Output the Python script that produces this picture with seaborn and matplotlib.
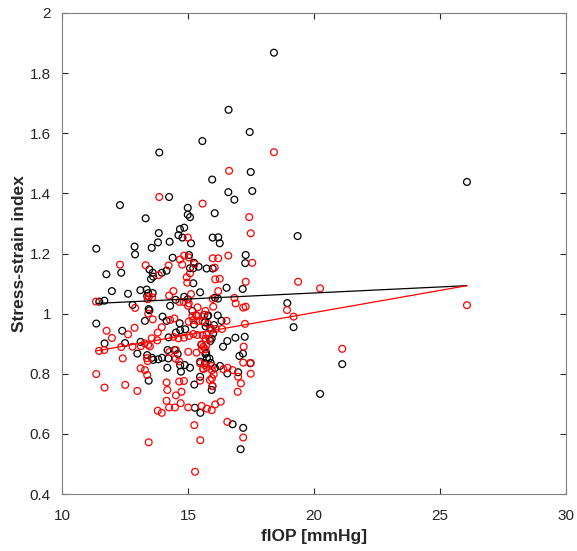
import matplotlib
matplotlib.use("Agg")
import matplotlib.pyplot as plt
import seaborn as sns
import pandas as pd

# ---- data ----
black_x = [12.30, 13.32, 11.36, 12.88, 12.90, 11.76, 12.35, 11.98, 12.62, 13.11, 13.36,
           15.57, 13.86, 14.25, 14.99, 14.99, 15.08, 14.85, 14.68, 13.84, 14.62, 14.78, 15.12,
           13.81, 14.27, 13.56, 14.39, 15.04, 15.24, 13.47, 13.60, 13.53, 13.62, 13.96, 14.15,
           15.08, 15.21, 15.42, 15.74, 15.21, 13.42, 13.60, 14.85, 15.48,
           16.61, 17.45, 17.49, 15.96, 16.60, 16.84, 17.55, 16.06, 15.98, 16.20, 16.26, 17.29,
           17.27, 15.98, 16.53, 17.17, 16.07, 16.19,
           13.38, 11.48, 11.68, 12.80, 13.44, 13.29, 11.36, 12.39, 11.69, 12.50, 13.12, 12.99,
           13.38, 13.44,
           14.99, 14.51, 14.29, 13.47, 13.99, 14.15, 14.67, 15.24, 15.65, 15.78, 14.89, 14.69,
           14.52, 14.23, 13.57, 13.62, 14.19, 14.47, 14.59, 13.82, 13.97, 14.22, 15.69, 15.75,
           15.48, 15.67, 14.18, 14.69, 14.87, 15.08, 14.72, 15.25, 15.27, 15.49,
           15.17, 15.80, 16.18, 16.33, 15.67, 15.70, 15.89, 16.03, 16.00, 17.25, 16.88, 15.94,
           15.89, 15.53, 16.56, 16.39, 17.04, 17.18, 17.47, 15.72, 15.85, 15.90, 16.07, 16.27,
           16.56, 16.99, 15.48, 15.97, 15.94, 16.77, 17.19, 17.09,
           18.41, 19.35, 18.94, 19.19, 21.12, 20.24, 26.07]
black_y = [1.361, 1.317, 1.216, 1.223, 1.197, 1.131, 1.136, 1.075, 1.066, 1.078, 1.080,
           1.574, 1.536, 1.388, 1.352, 1.329, 1.321, 1.286, 1.281, 1.268, 1.261, 1.253, 1.234,
           1.237, 1.239, 1.219, 1.186, 1.195, 1.169, 1.147, 1.136, 1.115, 1.123, 1.136, 1.143,
           1.151, 1.151, 1.156, 1.150, 1.101, 1.068, 1.068, 1.056, 1.071,
           1.678, 1.604, 1.471, 1.446, 1.404, 1.379, 1.408, 1.334, 1.253, 1.254, 1.234, 1.195,
           1.168, 1.150, 1.086, 1.082, 1.053, 1.050,
           1.059, 1.040, 1.043, 1.029, 1.015, 0.976, 0.967, 0.943, 0.901, 0.902, 0.906, 0.867,
           0.862, 0.777,
           1.048, 1.046, 1.026, 1.011, 0.990, 0.976, 0.968, 0.964, 0.996, 0.992, 0.948, 0.945,
           0.937, 0.921, 0.853, 0.846, 0.879, 0.879, 0.866, 0.848, 0.853, 0.851, 0.866, 0.852,
           0.840, 0.835, 0.820, 0.828, 0.829, 0.820, 0.807, 0.764, 0.687, 0.670,
           1.009, 0.994, 0.994, 0.976, 0.971, 0.957, 0.952, 0.962, 0.934, 0.923, 0.920, 0.917,
           0.909, 0.896, 0.909, 0.890, 0.859, 0.867, 0.835, 0.870, 0.851, 0.836, 0.819, 0.826,
           0.801, 0.805, 0.790, 0.759, 0.746, 0.632, 0.620, 0.549,
           1.868, 1.258, 1.035, 0.955, 0.832, 0.733, 1.438]

red_x = [12.30, 13.32,
         13.86, 15.58, 14.99, 14.85, 14.68, 15.03, 14.77, 14.23, 13.84, 14.95, 15.08, 14.97,
         13.45, 13.58, 14.42, 14.25,
         16.63, 17.43, 17.49, 16.60, 15.98, 16.20, 17.55, 16.06, 15.26, 16.08, 16.26, 17.29,
         16.20, 16.84,
         11.35, 12.90, 13.42, 11.77, 12.62, 12.88, 11.98, 11.47, 11.68, 12.35, 12.80, 13.13,
         13.42, 12.41, 13.37, 13.40, 13.12, 13.29, 13.38, 11.36, 11.69, 12.51, 12.99, 13.44,
         13.40, 15.12, 14.66, 14.83, 15.03, 15.00, 15.38, 15.32, 15.69, 15.63, 13.60, 14.29,
         14.46, 15.03, 15.21, 15.40, 15.58, 13.96, 13.80, 13.56, 13.78, 13.28, 14.42, 14.62,
         14.84, 15.04, 15.21, 15.37, 15.58, 13.49, 15.73, 15.54, 14.52, 14.26, 15.01, 15.34,
         15.55, 15.60, 14.51, 14.65, 15.48, 14.15, 14.84, 14.65, 14.18, 14.74, 14.52, 14.15,
         14.71, 15.01, 15.54, 14.48, 14.25, 13.80, 13.96, 15.75, 15.25, 15.49, 15.28,
         15.98, 16.89, 17.19, 17.29, 16.00, 15.17, 15.35, 16.53, 15.79, 15.93, 16.10, 16.35,
         17.26, 15.74, 15.70, 15.85, 15.61, 17.21, 15.69, 17.19, 17.49, 17.49, 15.48, 15.67,
         15.61, 15.74, 15.95, 15.95, 16.57, 16.40, 16.77, 16.99, 17.10, 16.97, 16.02, 15.95,
         15.87, 15.97, 16.30, 16.08, 15.94, 16.56, 17.19,
         18.41, 19.37, 20.24, 18.93, 19.19, 21.12, 26.07]
red_y = [1.163, 1.161,
         1.388, 1.366, 1.253, 1.193, 1.180, 1.187, 1.163, 1.160, 1.128, 1.121, 1.134, 1.103,
         1.056, 1.054, 1.075, 1.060,
         1.475, 1.321, 1.267, 1.193, 1.184, 1.184, 1.169, 1.153, 1.165, 1.114, 1.116, 1.106,
         1.075, 1.052,
         1.040, 1.019, 1.000, 0.943, 0.931, 0.953, 0.919, 0.876, 0.879, 0.889, 0.890, 0.892,
         0.896, 0.851, 0.852, 0.842, 0.818, 0.812, 0.796, 0.799, 0.754, 0.763, 0.743, 0.572,
         1.048, 1.065, 1.039, 1.039, 1.034, 1.026, 1.021, 0.995, 1.009, 0.996, 0.981, 0.979,
         0.984, 0.973, 0.979, 0.975, 0.974, 0.955, 0.937, 0.918, 0.911, 0.901, 0.923, 0.918,
         0.920, 0.926, 0.932, 0.929, 0.928, 0.891, 0.896, 0.898, 0.879, 0.872, 0.873, 0.870,
         0.881, 0.817, 0.850, 0.841, 0.777, 0.771, 0.776, 0.774, 0.746, 0.740, 0.728, 0.710,
         0.702, 0.688, 0.693, 0.688, 0.688, 0.677, 0.670, 0.684, 0.629, 0.579, 0.474,
         1.049, 1.034, 1.020, 1.023, 1.023, 0.992, 0.992, 0.976, 0.966, 0.946, 0.949, 0.949,
         0.966, 0.930, 0.917, 0.917, 0.890, 0.890, 0.881, 0.837, 0.836, 0.800, 0.835, 0.829,
         0.816, 0.821, 0.826, 0.812, 0.820, 0.815, 0.812, 0.790, 0.768, 0.740, 0.798, 0.785,
         0.779, 0.759, 0.707, 0.698, 0.679, 0.640, 0.588,
         1.537, 1.106, 1.084, 1.012, 0.990, 0.883, 1.028]

# fitted regression lines (end points)
fit_x = [11.36, 26.07]
black_fit_y = [1.034, 1.093]
red_fit_y = [0.876, 1.093]

x_ticks = [10, 15, 20, 25, 30]
y_ticks = [0.4, 0.6, 0.8, 1.0, 1.2, 1.4, 1.6, 1.8, 2.0]
y_tick_labels = ["0.4", "0.6", "0.8", "1", "1.2", "1.4", "1.6", "1.8", "2"]

# ---- plot ----
sns.set_style("white")
plt.rcParams["font.family"] = ["Liberation Sans", "DejaVu Sans"]
plt.rcParams.update({
    "xtick.major.size": 4, "ytick.major.size": 4,
    "xtick.major.width": 0.8, "ytick.major.width": 0.8,
    "xtick.direction": "in", "ytick.direction": "in",
    "xtick.top": True, "ytick.right": True,
    "xtick.bottom": True, "ytick.left": True,
    "xtick.major.pad": 11, "ytick.major.pad": 8,
    "xtick.color": "#262626", "ytick.color": "#262626",
    "xtick.labelsize": 11, "ytick.labelsize": 11,
})

fig = plt.figure(figsize=(5.77, 5.51), dpi=100)
ax = fig.add_axes([62 / 577, 1 - 494 / 551, (566 - 62) / 577, (494 - 13) / 551])

df_b = pd.DataFrame({"x": black_x, "y": black_y})
df_r = pd.DataFrame({"x": red_x, "y": red_y})

sns.scatterplot(data=df_b, x="x", y="y", ax=ax, marker="o", s=24,
                facecolors="none", edgecolor="black", linewidth=0.9, zorder=2)
sns.scatterplot(data=df_r, x="x", y="y", ax=ax, marker="o", s=24,
                facecolors="none", edgecolor="red", linewidth=0.9, zorder=3)

sns.lineplot(x=fit_x, y=black_fit_y, ax=ax, color="black", linewidth=0.9, zorder=4)
sns.lineplot(x=fit_x, y=red_fit_y, ax=ax, color="red", linewidth=0.9, zorder=4)

ax.set_xlim(10, 30)
ax.set_ylim(0.4, 2.0)
ax.set_xticks(x_ticks)
ax.set_xticklabels([str(t) for t in x_ticks])
ax.set_yticks(y_ticks)
ax.set_yticklabels(y_tick_labels)

for sp in ax.spines.values():
    sp.set_visible(True)
    sp.set_color("#808080")
    sp.set_linewidth(0.8)

ax.tick_params(axis="both", which="major", direction="in", length=4, width=0.8,
               color="#262626", top=True, right=True, bottom=True, left=True)

ax.set_xlabel("fIOP [mmHg]", fontsize=12.5, fontweight="bold", color="#262626", labelpad=4)
ax.set_ylabel("Stress-strain index", fontsize=12.5, fontweight="bold", color="#262626", labelpad=2)

fig.savefig("out.png", dpi=100)
